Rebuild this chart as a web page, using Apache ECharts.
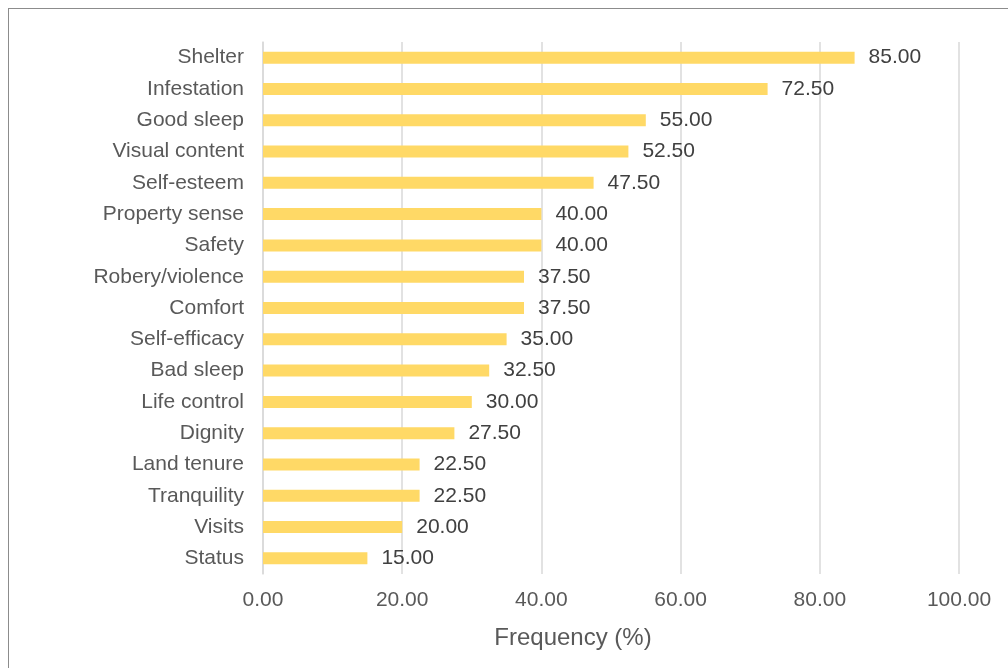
<!DOCTYPE html>
<html>
<head>
<meta charset="utf-8">
<script src="https://cdn.jsdelivr.net/npm/echarts@6/dist/echarts.min.js"></script>
<style>
  html, body { margin: 0; padding: 0; background: #fff; }
  #frame { position: absolute; left: 8px; top: 8px; width: 1008px; height: 668px; border-left: 1px solid #8c8c8c; border-top: 1px solid #8c8c8c; box-sizing: border-box; }
  #chart { position: absolute; left: 0; top: 0; width: 1008px; height: 668px; }
</style>
</head>
<body>
<div id="frame"></div>
<div id="chart"></div>
<script>
  // categories listed bottom to top (category axis starts at the bottom)
  const categories = ['Status', 'Visits', 'Tranquility', 'Land tenure', 'Dignity', 'Life control', 'Bad sleep',
    'Self-efficacy', 'Comfort', 'Robery/violence', 'Safety', 'Property sense', 'Self-esteem',
    'Visual content', 'Good sleep', 'Infestation', 'Shelter']
  const frequency = [15, 20, 22.5, 22.5, 27.5, 30, 32.5, 35, 37.5, 37.5, 40, 40, 47.5, 52.5, 55, 72.5, 85]
  const xTicks = [0, 20, 40, 60, 80, 100]

  let chart = echarts.init(document.getElementById('chart'), null, { renderer: 'canvas' })
  chart.setOption({
    animation: false,
    textStyle: { fontFamily: 'Liberation Sans, Arial, sans-serif' },
    grid: { left: 263, right: 49, top: 42, bottom: 94, containLabel: false },
    xAxis: {
      type: 'value',
      min: xTicks[0],
      max: xTicks[xTicks.length - 1],
      interval: 20,
      name: 'Frequency (%)',
      nameLocation: 'middle',
      nameGap: 52,
      nameTextStyle: { fontSize: 24, color: '#595959', padding: [0, 76, 0, 0] },
      axisLine: { show: false },
      axisTick: { show: false },
      axisLabel: { fontSize: 21, color: '#595959', margin: 16, formatter: v => v.toFixed(2) },
      splitLine: { show: true, lineStyle: { color: '#d9d9d9', width: 1.5 } }
    },
    yAxis: {
      type: 'category',
      data: categories,
      axisLine: { show: true, lineStyle: { color: '#d9d9d9', width: 1.5 } },
      axisTick: { show: false },
      axisLabel: { fontSize: 21, color: '#595959', margin: 19 }
    },
    series: [{
      type: 'bar',
      data: frequency,
      barWidth: 12,
      itemStyle: { color: '#FFD966' },
      label: {
        show: true,
        position: 'right',
        distance: 14,
        fontSize: 21,
        color: '#404040',
        formatter: p => p.value.toFixed(2)
      }
    }]
  })
</script>
</body>
</html>
